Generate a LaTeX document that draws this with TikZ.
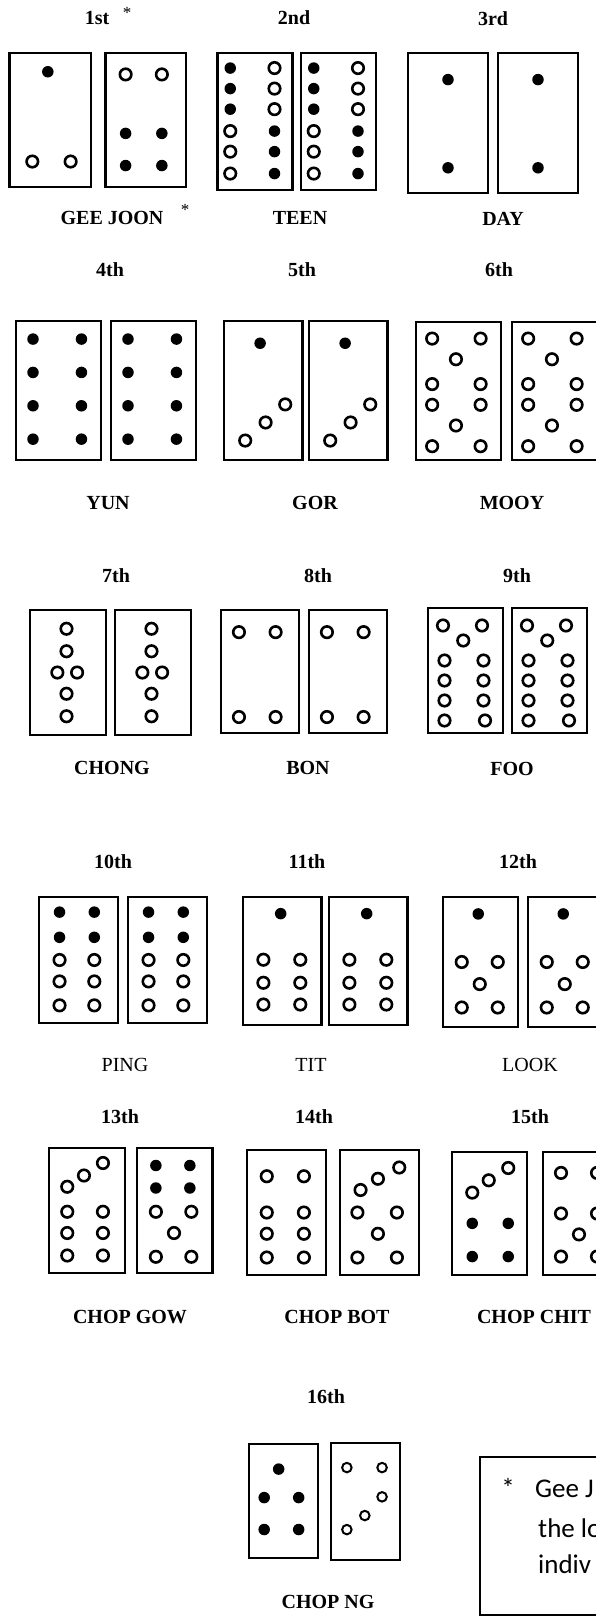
\documentclass[tikz,border=0pt]{standalone}
\usepackage{fontspec}
\setmainfont{Liberation Serif}
\newfontfamily\notefont{Carlito}
\usepackage{tikz}

% one tile: left, top, width, height, pips as fx/fy/style
\newcommand{\domino}[5]{%
    \draw[tileframe] (#1,#2) rectangle ++(#3,#4);
    \foreach \u/\v/\k in {#5}
    {
        \node[\k] at ({#1+\u*#3},{#2+\v*#4}) {};
    }
}

\begin{document}
\begin{tikzpicture}[x=1pt,y=-1pt,
        tileframe/.style={draw,line width=2.9pt},
        pipB/.style={circle,fill=black,inner sep=0pt,minimum size=11.5pt},
        pipW/.style={circle,draw,line width=2.6pt,inner sep=0pt,minimum size=11.5pt},
        pipw/.style={circle,draw,line width=2pt,inner sep=0pt,minimum size=9.5pt},
        ordlabel/.style={font=\bfseries\fontsize{20}{24}\selectfont},
        namelabel/.style={font=\bfseries\fontsize{20}{24}\selectfont},
        thinlabel/.style={font=\fontsize{20}{24}\selectfont}]
        \useasboundingbox (0,0) rectangle (595,1616);
        \foreach \x/\y/\t/\nm in {97/18/1st/o1,294/18/2nd/o2,493/19/3rd/o3,
            110/270/4th/o4,302/270/5th/o5,499/270/6th/o6,
            116/576/7th/o7,318/576/8th/o8,517/576/9th/o9,
            113/862/10th/o10,307/862/11th/o11,518/862/12th/o12,
            120/1117/13th/o13,314/1117/14th/o14,530/1117/15th/o15,
            326/1397/16th/o16}
        {
            \node[ordlabel] (\nm) at (\x,\y) {\t};
        }
        \foreach \x/\y/\t/\nm in {112/218/GEE JOON/n1,300/218/TEEN/n2,503/219/DAY/n3,
            108/503/YUN/n4,315/503/GOR/n5,512/503/MOOY/n6,
            112/768/CHONG/n7,308/768/BON/n8,512/769/FOO/n9,
            130/1317/CHOP GOW/n13,337/1317/CHOP BOT/n14,534/1317/CHOP CHIT/n15,
            328/1602/CHOP NG/n16}
        {
            \node[namelabel] (\nm) at (\x,\y) {\t};
        }
        \foreach \x/\y/\t/\nm in {125/1065/PING/n10,311/1065/TIT/n11,530/1065/LOOK/n12}
        {
            \node[thinlabel] (\nm) at (\x,\y) {\t};
        }
        \node[font=\fontsize{17}{19}\selectfont] (s1) at (127,13) {*};
        \node[font=\fontsize{17}{19}\selectfont] (s2) at (185,210) {*};
        % gee joon, teen, day
        \domino{9.5}{53}{81.5}{134}{0.47/0.14/pipB,0.28/0.81/pipW,0.75/0.81/pipW}
        \domino{105.5}{53}{80.5}{134}{0.25/0.16/pipW,0.7/0.16/pipW,0.25/0.6/pipB,0.7/0.6/pipB,0.25/0.84/pipB,0.7/0.84/pipB}
        \foreach \l in {217.5,301}
        {
            \domino{\l}{53}{75}{137}{0.17/0.11/pipB,0.17/0.26/pipB,0.17/0.41/pipB,0.17/0.57/pipW,0.17/0.72/pipW,0.17/0.88/pipW,
                0.76/0.11/pipW,0.76/0.26/pipW,0.76/0.41/pipW,0.76/0.57/pipB,0.76/0.72/pipB,0.76/0.88/pipB}
        }
        \foreach \l in {408,498}
        {
            \domino{\l}{53}{80}{140}{0.5/0.19/pipB,0.5/0.82/pipB}
        }
        % yun, gor, mooy
        \foreach \l in {16,111}
        {
            \domino{\l}{321}{85}{139}{0.2/0.13/pipB,0.77/0.13/pipB,0.2/0.37/pipB,0.77/0.37/pipB,0.2/0.61/pipB,0.77/0.61/pipB,0.2/0.85/pipB,0.77/0.85/pipB}
        }
        \foreach \l in {224,309}
        {
            \domino{\l}{321}{78.5}{139}{0.46/0.16/pipB,0.27/0.86/pipW,0.53/0.73/pipW,0.78/0.6/pipW}
        }
        \foreach \l in {416,512}
        {
            \domino{\l}{322}{85}{138}{0.19/0.12/pipW,0.76/0.12/pipW,0.47/0.27/pipW,0.19/0.45/pipW,0.76/0.45/pipW,
                0.19/0.6/pipW,0.76/0.6/pipW,0.47/0.75/pipW,0.19/0.9/pipW,0.76/0.9/pipW}
        }
        % chong, bon, foo
        \foreach \l in {30,115}
        {
            \domino{\l}{610}{76}{125}{0.48/0.15/pipW,0.48/0.33/pipW,0.36/0.5/pipW,0.62/0.5/pipW,0.48/0.67/pipW,0.48/0.85/pipW}
        }
        \foreach \l in {221,309}
        {
            \domino{\l}{610}{78}{123}{0.23/0.18/pipW,0.7/0.18/pipW,0.23/0.87/pipW,0.7/0.87/pipW}
        }
        \foreach \l in {428,512}
        {
            \domino{\l}{608}{75}{125}{0.2/0.14/pipW,0.72/0.14/pipW,0.47/0.26/pipW,0.22/0.42/pipW,0.74/0.42/pipW,0.22/0.58/pipW,
                0.74/0.58/pipW,0.22/0.74/pipW,0.74/0.74/pipW,0.22/0.9/pipW,0.76/0.9/pipW}
        }
        % ping, tit, look
        \foreach \l in {39,128}
        {
            \domino{\l}{897}{79}{126}{0.26/0.12/pipB,0.7/0.12/pipB,0.26/0.32/pipB,0.7/0.32/pipB,0.26/0.5/pipW,0.7/0.5/pipW,
                0.26/0.67/pipW,0.7/0.67/pipW,0.26/0.86/pipW,0.7/0.86/pipW}
        }
        \foreach \l in {243,329}
        {
            \domino{\l}{897}{78.5}{128}{0.48/0.13/pipB,0.26/0.49/pipW,0.73/0.49/pipW,0.26/0.67/pipW,0.73/0.67/pipW,0.26/0.84/pipW,0.73/0.84/pipW}
        }
        \foreach \l in {443,528}
        {
            \domino{\l}{897}{75}{130}{0.47/0.13/pipB,0.25/0.5/pipW,0.73/0.5/pipW,0.49/0.67/pipW,0.25/0.85/pipW,0.73/0.85/pipW}
        }
        % chop gow, chop bot, chop chit
        \domino{49}{1148}{76}{125}{0.24/0.31/pipW,0.46/0.22/pipW,0.71/0.12/pipW,0.24/0.51/pipW,0.71/0.51/pipW,0.24/0.68/pipW,0.71/0.68/pipW,0.24/0.86/pipW,0.71/0.86/pipW}
        \domino{137}{1148}{75.5}{125}{0.25/0.14/pipB,0.7/0.14/pipB,0.25/0.32/pipB,0.7/0.32/pipB,0.25/0.51/pipW,0.72/0.51/pipW,0.49/0.68/pipW,0.25/0.87/pipW,0.72/0.87/pipW}
        \domino{247}{1150}{79}{125}{0.25/0.21/pipW,0.72/0.21/pipW,0.25/0.5/pipW,0.72/0.5/pipW,0.25/0.67/pipW,0.72/0.67/pipW,0.25/0.86/pipW,0.72/0.86/pipW}
        \domino{340}{1150}{79}{125}{0.26/0.32/pipW,0.48/0.23/pipW,0.75/0.14/pipW,0.22/0.5/pipW,0.72/0.5/pipW,0.48/0.67/pipW,0.22/0.86/pipW,0.72/0.86/pipW}
        \domino{452}{1152}{75}{123}{0.27/0.33/pipW,0.49/0.23/pipW,0.75/0.13/pipW,0.27/0.58/pipB,0.75/0.58/pipB,0.27/0.85/pipB,0.75/0.85/pipB}
        \domino{543}{1152}{75}{123}{0.24/0.17/pipW,0.72/0.17/pipW,0.24/0.5/pipW,0.72/0.5/pipW,0.48/0.67/pipW,0.24/0.85/pipW,0.72/0.85/pipW}
        % chop ng
        \domino{249}{1444}{69}{114}{0.43/0.22/pipB,0.22/0.47/pipB,0.72/0.47/pipB,0.22/0.75/pipB,0.72/0.75/pipB}
        \domino{331}{1443}{69}{117}{0.23/0.21/pipw,0.74/0.21/pipw,0.23/0.74/pipw,0.49/0.62/pipw,0.74/0.46/pipw}
        % footnote box
        \draw[line width=1.8pt] (480,1457) rectangle (660,1615);
        \node[font=\notefont\fontsize{27}{32}\selectfont,anchor=base] (star) at (508,1497) {*};
        \node[font=\notefont\fontsize{27}{32}\selectfont,anchor=base west,inner sep=0pt] (l1) at (535,1497) {Gee J};
        \node[font=\notefont\fontsize{27}{32}\selectfont,anchor=base west,inner sep=0pt] (l2) at (538,1537) {the lo};
        \node[font=\notefont\fontsize{27}{32}\selectfont,anchor=base west,inner sep=0pt] (l3) at (538,1573) {indiv};
    \end{tikzpicture}
\end{document}
